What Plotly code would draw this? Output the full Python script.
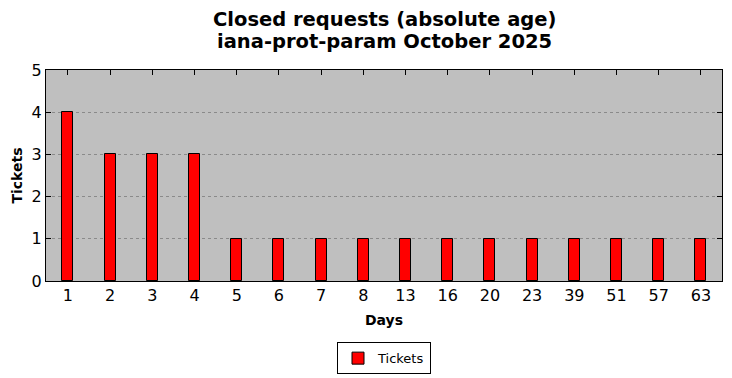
import plotly.graph_objects as go

days = ["1", "2", "3", "4", "5", "6", "7", "8", "13", "16", "20", "23", "39", "51", "57", "63"]
tickets = [4, 3, 3, 3, 1, 1, 1, 1, 1, 1, 1, 1, 1, 1, 1, 1]
title_lines = ["Closed requests (absolute age)", "iana-prot-param October 2025"]

fig = go.Figure()
fig.add_trace(go.Bar(
    x=days, y=tickets, name="Tickets", width=0.26,
    marker=dict(color="#ff0000", line=dict(color="black", width=1)),
    showlegend=True,
))

font = "DejaVu Sans"
fig.update_layout(
    width=732, height=378,
    margin=dict(l=46, r=10, t=70, b=97, autoexpand=False),
    paper_bgcolor="white", plot_bgcolor="#bfbfbf",
    font=dict(family=font, color="black"),
    showlegend=True,
    legend=dict(x=0.5, xanchor="center", y=-0.29, yanchor="top",
                bordercolor="black", borderwidth=1, bgcolor="white",
                font=dict(size=13, family=font), tracegroupgap=0,
                itemwidth=30),
    bargap=0,
)
for line, ypos in zip(title_lines, [1.2417, 1.1374]):
    fig.add_annotation(text="<b>" + line + "</b>", xref="paper", yref="paper",
                       x=0.5, y=ypos, xanchor="center", yanchor="middle",
                       showarrow=False, font=dict(size=19.5, family=font))
fig.update_xaxes(
    type="category", range=[-0.52, 15.5], automargin=False,
    title=dict(text="<b>Days</b>", font=dict(size=14), standoff=10),
    tickfont=dict(size=16), ticks="inside", ticklen=5, tickcolor="black",
    showline=True, linecolor="black", linewidth=1, mirror="ticks",
    showgrid=False, layer="below traces",
)
fig.update_yaxes(
    range=[0, 5], dtick=1, automargin=False,
    title=dict(text="<b>Tickets</b>", font=dict(size=14), standoff=5),
    tickfont=dict(size=16), ticks="inside", ticklen=5, tickcolor="black",
    showline=True, linecolor="black", linewidth=1, mirror="ticks",
    showgrid=True, gridcolor="#8a8a8a", griddash="dot", gridwidth=1,
    zeroline=False,
)
fig.write_html("out.html", config={"displayModeBar": False},
               post_script="document.body.style.margin='0';")
